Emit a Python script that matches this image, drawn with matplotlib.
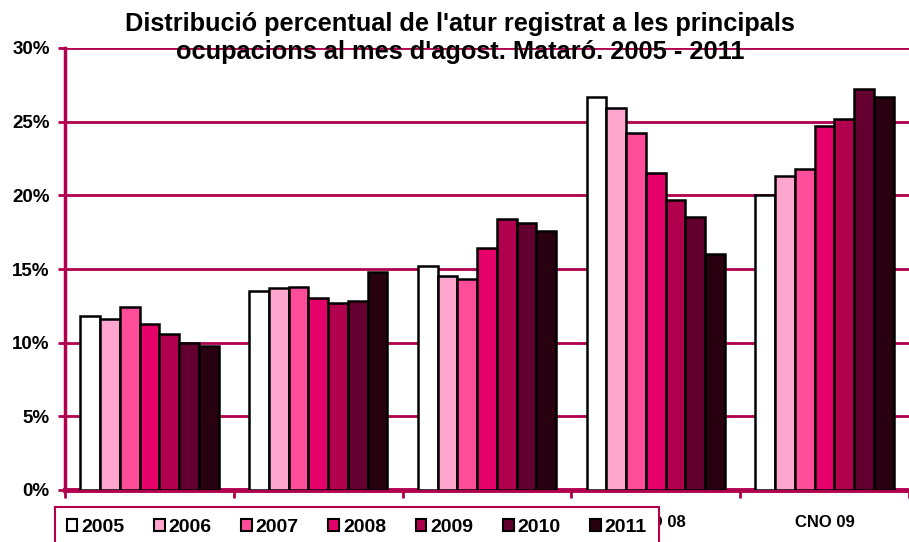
import matplotlib
matplotlib.use("Agg")
import matplotlib.pyplot as plt
import numpy as np
from matplotlib.patches import Patch

categories = ["CNO 05", "CNO 06", "CNO 07", "CNO 08", "CNO 09"]
years = ["2005", "2006", "2007", "2008", "2009", "2010", "2011"]
v2005 = [11.8, 13.5, 15.2, 26.7, 20.0]
v2006 = [11.6, 13.7, 14.5, 25.9, 21.3]
v2007 = [12.4, 13.8, 14.3, 24.2, 21.8]
v2008 = [11.3, 13.0, 16.4, 21.5, 24.7]
v2009 = [10.6, 12.7, 18.4, 19.7, 25.2]
v2010 = [10.0, 12.8, 18.1, 18.5, 27.2]
v2011 = [9.8, 14.8, 17.6, 16.0, 26.7]
series = [v2005, v2006, v2007, v2008, v2009, v2010, v2011]
colors = ["#FFFFFF", "#FFA6CF", "#FF4D9A", "#E6006A", "#B0004E", "#640030", "#280010"]
accent = "#B0004E"

plt.rcParams['font.family'] = ['Liberation Sans', 'DejaVu Sans']

fig = plt.figure(figsize=(9.09, 5.42), dpi=100)
ax = fig.add_axes([65/909, 52/542, 1 - 65/909, 442/542])

n = len(series)
bw = 0.117
x = np.arange(len(categories))
for i, (vals, c) in enumerate(zip(series, colors)):
    ax.bar(x + (i - (n - 1) / 2) * bw, vals, width=bw, color=c,
           edgecolor="black", linewidth=1.8, zorder=3, label=years[i])

ax.set_ylim(0, 30)
ax.set_xlim(-0.5, -0.5 + 844/171)
ax.set_yticks([0, 5, 10, 15, 20, 25, 30])
ax.set_yticklabels([f"{t}%" for t in [0, 5, 10, 15, 20, 25, 30]],
                   fontsize=13.5, fontweight='bold')
ax.yaxis.grid(True, color=accent, linewidth=2, zorder=0)
ax.set_axisbelow(True)
ax.set_xticks(np.arange(len(categories) + 1) - 0.5, minor=False)
ax.set_xticklabels([])
ax.set_xticks(x, minor=True)
ax.set_xticklabels(categories, minor=True, fontsize=12, fontweight='bold')
ax.tick_params(axis='x', which='major', length=6, width=2, color=accent, direction='out')
ax.tick_params(axis='x', which='minor', length=0, pad=18)
ax.tick_params(axis='y', length=5, width=2, color=accent, direction='out', pad=6)
for s in ['top', 'right']:
    ax.spines[s].set_visible(False)
ax.spines['left'].set_color(accent)
ax.spines['left'].set_linewidth(2.5)
ax.spines['bottom'].set_color(accent)
ax.spines['bottom'].set_linewidth(3.5)

fig.text(460/909, 1 - 38/542, "Distribució percentual de l'atur registrat a les principals\nocupacions al mes d'agost. Mataró. 2005 - 2011",
         ha='center', va='center', fontsize=18.3, fontweight='bold', linespacing=1.25)

handles = [Patch(facecolor=c, edgecolor='black', linewidth=1.5) for c in colors]
leg = fig.legend(handles, years, loc='upper left', bbox_to_anchor=(55/909, 1 - 507/542),
                 ncol=7, frameon=True, fancybox=False, handlelength=0.55, handleheight=0.55,
                 handletextpad=0.2, columnspacing=1.52, borderpad=0.6, borderaxespad=0,
                 framealpha=1, prop={'weight': 'bold', 'size': 14})
leg.get_frame().set_edgecolor(accent)
leg.get_frame().set_linewidth(1.5)
leg.get_frame().set_facecolor('white')

fig.savefig("out.png", dpi=100)
